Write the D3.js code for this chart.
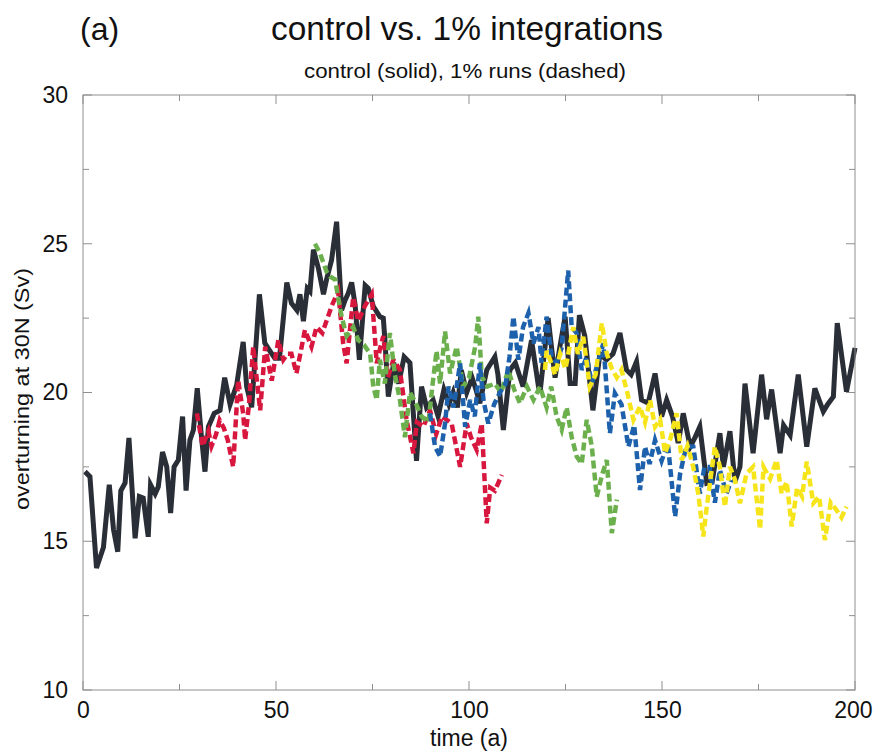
<!DOCTYPE html>
<html>
<head>
<meta charset="utf-8">
<script src="https://cdn.jsdelivr.net/npm/d3@7"></script>
<style>
  html, body { margin: 0; padding: 0; background: #fff; }
  svg { display: block; }
  text { font-family: "Liberation Sans", Arial, Helvetica, sans-serif; fill: #111; }
</style>
</head>
<body>
<svg id="chart" width="873" height="753"></svg>
<script>
// ---------------- data ----------------
const controlYears = [0.5,1.8,3.5,5.3,6.8,7.9,9,9.8,10.9,11.9,13.5,14.6,15.6,16.9,17.5,18.7,19.5,20.6,21.7,22.7,23.6,24.7,25.8,26.7,27.7,28.6,29.6,30.7,31.6,32.5,34,35.5,36.7,38.1,39.8,41.5,42.4,43.7,45.7,47.1,48.4,49.7,50.9,52.8,54,55.4,56.2,57.1,58.1,58.8,59.7,61,62.3,63.1,64.4,65.7,67,67.9,68.7,69.6,70.5,71.6,73.1,73.9,75.2,76.9,77.8,78.2,79.1,80.5,81.8,83.2,84.7,86.4,87.7,89,90.7,92,93.5,94.8,95.9,97,98,99.4,100.8,101.8,102.8,104.6,106.7,107.5,108.9,110.6,112,114,116.2,118,118.4,120.5,122.3,123.5,124.9,126.2,127.5,128.6,130,132.1,133.9,135.6,137.3,139.1,140.8,142,143.4,144.7,146.4,148.2,149.9,151.2,152.7,154.2,155.5,157.3,158.6,159.8,161.6,163,165,165.9,167.6,168.9,170.2,171.5,173.6,175.8,177.1,178.4,180.6,181.5,183.2,185.3,187.5,189.6,191.8,192.9,194.4,195.4,197.8,200];
const controlSv = [17.34,17.17,14.1,14.8,16.9,15.4,14.65,16.7,16.96,18.47,15.1,16.5,16.45,15.15,16.9,16.6,16.83,18.0,17.5,15.95,17.5,17.73,19.19,16.7,18.4,18.74,20.14,18.5,17.34,18.85,19.3,19.4,20.5,19.6,20.25,21.7,20.2,19.5,23.3,21.66,21.4,21.15,21.15,23.7,23.0,22.77,23.3,22.4,23.5,23.4,24.8,24.17,23.3,23.8,24.45,25.74,22.77,23.1,23.33,23.7,22.94,21.1,23.6,23.5,22.9,22.55,22.5,21.8,19.86,21.0,20.3,21.2,21.0,17.7,20.2,19.5,19.75,19.2,20.1,19.6,20.0,19.5,20.75,20.0,20.5,20.1,19.64,20.76,21.2,20.6,18.74,20.76,21.0,20.2,21.76,20.2,20.0,22.5,20.5,21.5,22.55,20.3,20.3,22.6,21.9,19.4,21.3,21.1,21.3,22.0,20.76,20.6,21.04,19.75,19.64,20.64,19.19,19.75,19.2,18.3,19.3,18.18,18.5,18.85,16.95,17.0,18.63,17.5,18.7,17.0,17.5,20.3,17.96,20.6,19.1,20.1,17.96,18.9,18.57,20.6,18.18,20.14,19.36,19.6,19.86,22.33,20.03,21.5];

const redYears = [29.5,31,32.5,33.3,34.5,35.4,36.5,37.5,38.9,40.2,41.5,42,43,44.1,45.9,47.2,48.9,50.6,51.9,53,54,55.3,57.5,59.2,60.5,62,64.4,66.1,67.4,68.3,70,71.3,73,74.8,76.1,77,77.8,79,80.4,82.1,83.8,85.6,86.5,88.2,89.9,91.5,93,95.5,97.7,99.4,100.5,102,103.3,104.6,105.5,106.7,108.5];
const redSv = [19.3,18.2,18.7,18.2,18.6,19.07,18.8,18.4,17.5,20.4,19.3,18.4,19.6,21.54,19.4,21.54,20.4,21.76,21.1,21.3,21.3,20.64,22.1,21.54,22.2,22.0,22.9,23.4,21.65,20.98,23.2,22.4,22.9,23.3,20.98,21.5,21.9,20.5,21.1,20.76,19.1,17.96,19.0,18.85,19.4,18.6,19.2,18.96,17.5,18.96,18.5,18.07,18.96,15.6,16.8,16.7,17.23];

const greenYears = [60.1,61.4,63.1,64,65.3,66.1,67,68.3,70,71.3,72.8,74.4,75.2,76.1,76.9,78.2,79.5,80.8,82.1,83.4,84.7,86,87.7,89.5,90.5,91.6,92.5,93.8,95.1,96.8,98.5,100,101.6,102.4,103.3,104.8,106.7,108.3,110.2,111.7,113.2,115,116.7,118.4,120.1,121.3,122.7,124,125.3,126.6,127.9,129.2,130.5,131.8,133.1,134.4,135.7,137,138.3];
const greenSv = [25.0,24.68,24.06,23.9,23.8,23.2,22.55,21.9,22.2,21.76,21.6,21.3,20.2,19.75,21.1,20.3,22.0,20.6,19.75,18.5,20.0,19.7,19.2,19.0,20.2,21.4,20.3,22.05,20.64,21.54,20.2,20.5,21.54,22.55,20.53,20.2,20.3,20.0,20.76,20.1,19.64,20.2,19.75,20.2,19.5,20.2,19.19,18.74,19.5,18.5,17.85,17.6,19.08,18.2,16.5,17.2,17.73,15.27,16.4];

const blueYears = [89.9,91.2,92.5,93.8,94.7,96,97.7,99,100.3,101.5,102.8,103.8,105,106.5,108,109.5,110.5,111.5,112.8,114,115.4,116.7,118,118.8,120.1,121.4,122.7,124,125.7,126.6,127.9,129.2,130.5,131.8,133.2,134.8,136.5,137.8,139.5,141.3,142.8,144.3,145.6,146.8,148.2,149.9,151.5,153.4,154.7,156.3,158.1,159.8,161,162.3,163.7,165,166.7,168];
const blueSv = [19.3,18.18,17.85,18.96,20.2,19.5,20.98,18.85,19.75,19.2,20.98,19.7,18.96,19.6,20.0,20.3,21.2,22.55,21.1,22.2,22.67,21.65,22.2,21.0,22.55,21.2,21.0,21.5,24.1,22.2,22.0,20.76,21.2,20.3,20.9,21.65,18.63,19.97,19.6,18.18,18.9,16.72,18.18,17.6,18.4,17.7,18.3,15.83,17.28,18.2,18.18,16.6,17.5,17.5,16.3,17.4,16.6,17.06];

const yellowYears = [119.7,120.1,121,122.3,123.6,125,127,128.2,129.6,131.3,132.8,134.4,135.7,137,138.3,139.5,141,142.6,144.3,145.6,146.9,148.2,149.5,150.8,152.3,153.8,155.1,156.6,158.1,159.4,160.7,161.5,162.3,163.7,165,166.3,167.6,168.9,170.2,171.9,173.6,175.4,176.3,178,179.7,181,182.3,183.6,185,186.3,187.5,189.2,190.7,192.2,193.7,195.2,196.5,197.8];
const yellowSv = [20.76,21.4,21.1,20.6,21.3,20.8,22.2,21.3,21.87,20.2,20.6,22.33,21.3,20.8,20.5,20.76,20.0,19.08,19.53,19.0,19.75,18.85,19.1,17.96,18.5,19.3,17.73,18.2,17.5,16.6,15.16,16.05,16.84,18.18,17.5,16.16,17.5,17.06,16.28,17.28,17.5,15.4,17.5,17.1,17.73,16.6,17.0,15.5,16.8,16.5,17.68,16.28,16.5,15.04,16.3,16.05,15.8,16.16];

const xTickValues = [0, 50, 100, 150, 200];
const yTickValues = [10, 15, 20, 25, 30];
const titleText = "control vs. 1% integrations";
const panelLabel = "(a)";
const subtitleText = "control (solid), 1% runs (dashed)";
const xLabel = "time (a)";
const yLabel = "overturning at 30N (Sv)";

// ---------------- drawing ----------------
const W = 873, H = 753;
const m = { left: 83, right: 18, top: 95, bottom: 63 };
const svg = d3.select("#chart");
const x = d3.scaleLinear().domain([0, 200]).range([m.left, W - m.right]);
const y = d3.scaleLinear().domain([10, 30]).range([H - m.bottom, m.top]);

const axisColor = "#8f8f8f";
const g = svg.append("g");

const zip = (xs, ys) => xs.map((d, i) => [d, ys[i]]);
const line = d3.line().x(d => x(d[0])).y(d => y(d[1]));
const plot = g.append("g");

plot.append("path").datum(zip(controlYears, controlSv))
  .attr("d", line).attr("fill", "none")
  .attr("stroke", "#2a2e36").attr("stroke-width", 5)
  .attr("stroke-linejoin", "miter").attr("stroke-miterlimit", 4);

const runs = [
  { xs: redYears, ys: redSv, color: "#d8173f" },
  { xs: greenYears, ys: greenSv, color: "#6cb04e" },
  { xs: blueYears, ys: blueSv, color: "#1d61ac" },
  { xs: yellowYears, ys: yellowSv, color: "#f7e51c" }
];
runs.forEach(r => {
  plot.append("path").datum(zip(r.xs, r.ys))
    .attr("d", line).attr("fill", "none")
    .attr("stroke", r.color).attr("stroke-width", 4.5)
    .attr("stroke-dasharray", "8,4")
    .attr("stroke-linejoin", "miter");
});

// frame
g.append("rect").attr("x", x(0)).attr("y", y(30))
  .attr("width", x(200) - x(0)).attr("height", y(10) - y(30))
  .attr("fill", "none").attr("stroke", axisColor).attr("stroke-width", 1);

// ticks (inward, all four sides)
const xt = d3.range(0, 201, 25), yt = d3.range(10, 30.01, 2.5);
xt.forEach(v => {
  const len = v % 50 === 0 ? 9 : 6;
  g.append("line").attr("x1", x(v)).attr("x2", x(v)).attr("y1", y(10)).attr("y2", y(10) - len).attr("stroke", axisColor);
  g.append("line").attr("x1", x(v)).attr("x2", x(v)).attr("y1", y(30)).attr("y2", y(30) + len).attr("stroke", axisColor);
});
yt.forEach(v => {
  const len = v % 5 === 0 ? 9 : 6;
  g.append("line").attr("y1", y(v)).attr("y2", y(v)).attr("x1", x(0)).attr("x2", x(0) + len).attr("stroke", axisColor);
  g.append("line").attr("y1", y(v)).attr("y2", y(v)).attr("x1", x(200)).attr("x2", x(200) - len).attr("stroke", axisColor);
});

// tick labels via d3 axes (lines hidden)
const xAxis = d3.axisBottom(x).tickValues(xTickValues).tickSize(0).tickPadding(12);
const xa = g.append("g").attr("transform", `translate(0,${y(10)})`).call(xAxis);
xa.select(".domain").remove();
xa.selectAll("text").attr("font-size", 23).attr("font-family", "Liberation Sans, Arial, sans-serif").attr("fill", "#111");
// keep the last label inside the page edge
xa.selectAll("text").filter(d => d === 200).attr("text-anchor", "end").attr("x", W - 1 - x(200));

const yAxis = d3.axisLeft(y).tickValues(yTickValues).tickSize(0).tickPadding(15);
const ya = g.append("g").attr("transform", `translate(${x(0)},0)`).call(yAxis);
ya.select(".domain").remove();
ya.selectAll("text").attr("font-size", 23).attr("font-family", "Liberation Sans, Arial, sans-serif").attr("fill", "#111");

// titles
svg.append("text").attr("x", 80).attr("y", 40).attr("font-size", 32).text(panelLabel);
svg.append("text").attr("x", 467).attr("y", 40).attr("text-anchor", "middle").attr("font-size", 34)
  .attr("textLength", 392).attr("lengthAdjust", "spacingAndGlyphs").text(titleText);
svg.append("text").attr("x", 465).attr("y", 78).attr("text-anchor", "middle").attr("font-size", 21)
  .attr("textLength", 322).attr("lengthAdjust", "spacingAndGlyphs").text(subtitleText);
svg.append("text").attr("x", 469).attr("y", 746).attr("text-anchor", "middle").attr("font-size", 23).text(xLabel);
svg.append("text").attr("transform", "translate(29,389) rotate(-90)").attr("text-anchor", "middle").attr("font-size", 21)
  .attr("textLength", 242).attr("lengthAdjust", "spacingAndGlyphs").text(yLabel);
</script>
</body>
</html>
